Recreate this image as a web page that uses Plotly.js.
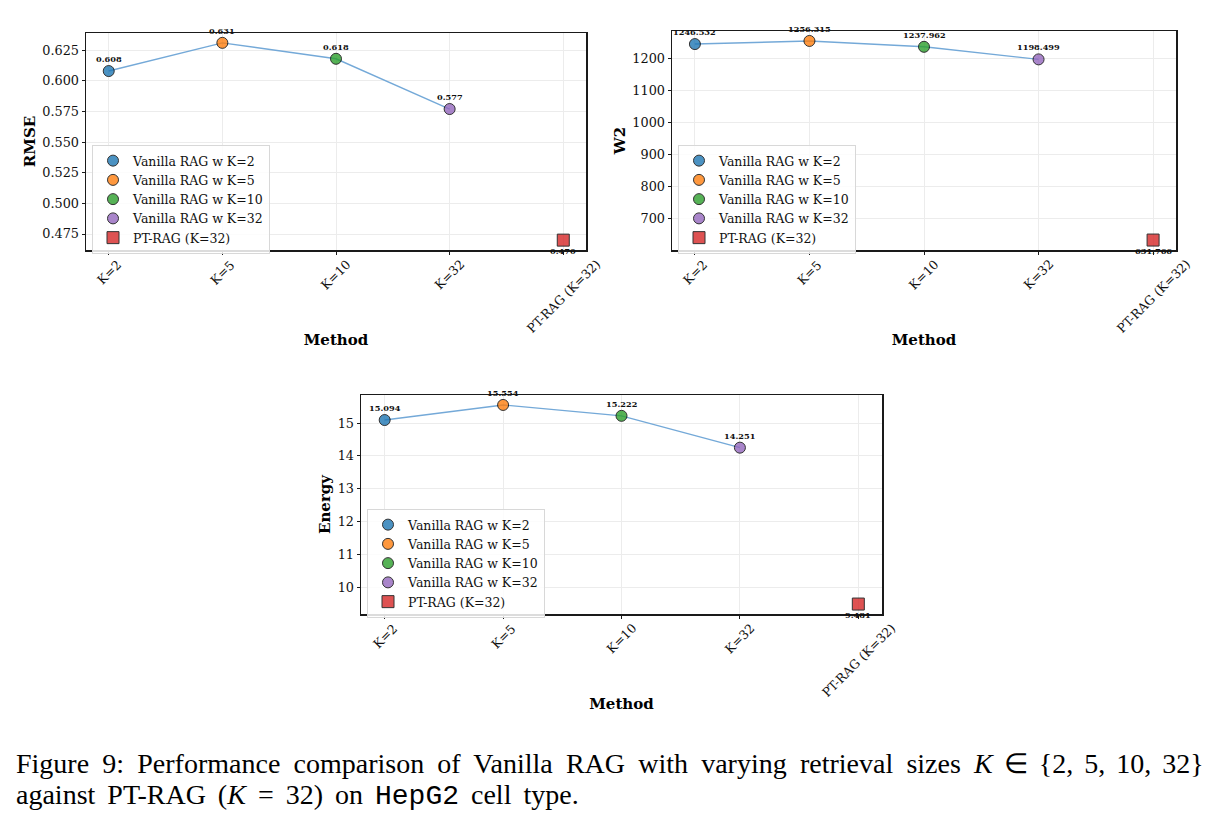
<!DOCTYPE html>
<html>
<head>
<meta charset="utf-8">
<script src="https://cdn.plot.ly/plotly-3.0.1.min.js"></script>
<style>
  html, body { margin: 0; padding: 0; background: #fff; }
  #fig { width: 1219px; height: 831px; }
</style>
</head>
<body>
<div id="fig"></div>
<script>
// Methods on the x axis and their legend names
const methods = ['K=2', 'K=5', 'K=10', 'K=32', 'PT-RAG (K=32)'];
const legendNames = ['Vanilla RAG w K=2', 'Vanilla RAG w K=5', 'Vanilla RAG w K=10', 'Vanilla RAG w K=32', 'PT-RAG (K=32)'];

// Metric values per method
const rmse = [0.608, 0.631, 0.618, 0.577, 0.470];
const w2 = [1246.532, 1256.315, 1237.962, 1198.499, 631.766];
const energy = [15.094, 15.554, 15.222, 14.251, 9.481];

const colors = ['#1f77b4', '#ff7f0e', '#2ca02c', '#9467bd', '#d62728'];
const symbols = ['circle', 'circle', 'circle', 'circle', 'square'];

const W = 1219, H = 831;
const SERIF = 'DejaVu Serif, serif';
const px = v => v / W;
const py = v => 1 - v / H;

// panel boxes in pixels: [left, top, right, bottom], legend corner, tick spacing
const panels = [
  { name: 'RMSE', data: rmse, box: [86, 33, 586, 250], legend: [92, 145], dtick: 0.025, fmt: '.3f' },
  { name: 'W2', data: w2, box: [672, 31, 1176, 250], legend: [678, 145], dtick: 100, fmt: 'd' },
  { name: 'Energy', data: energy, box: [361, 395, 882, 614], legend: [367, 509], dtick: 1, fmt: 'd' }
];

const traces = [];
const layout = {
  width: W, height: H,
  margin: { l: 0, r: 0, t: 0, b: 0 },
  paper_bgcolor: '#fff', plot_bgcolor: '#fff',
  font: { family: SERIF, size: 12.5, color: '#111' },
  annotations: [],
  hovermode: false
};

panels.forEach((p, i) => {
  const n = i + 1;
  const xa = 'x' + (n === 1 ? '' : n), ya = 'y' + (n === 1 ? '' : n);
  const xKey = 'xaxis' + (n === 1 ? '' : n), yKey = 'yaxis' + (n === 1 ? '' : n);
  const legKey = 'legend' + (n === 1 ? '' : n);

  const lo = Math.min(...p.data), hi = Math.max(...p.data);
  const pad = (hi - lo) * 0.05;

  layout[xKey] = {
    domain: [px(p.box[0]), px(p.box[2])],
    anchor: ya,
    type: 'category',
    categoryorder: 'array', categoryarray: methods,
    range: [-0.2, methods.length - 0.8],
    showgrid: true, gridcolor: '#ececec', gridwidth: 1,
    showline: true, mirror: true, linecolor: '#1a1a1a', linewidth: 1.5,
    ticks: 'outside', ticklen: 3, tickcolor: '#1a1a1a',
    showticklabels: false,
    zeroline: false,
    title: { text: '<b>Method</b>', font: { family: SERIF, size: 15, color: '#000' }, standoff: 81 }
  };
  layout[yKey] = {
    domain: [py(p.box[3]), py(p.box[1])],
    anchor: xa,
    range: [lo - pad, hi + pad],
    dtick: p.dtick, tick0: 0, tickformat: p.fmt,
    showgrid: true, gridcolor: '#ececec', gridwidth: 1,
    showline: true, mirror: true, linecolor: '#1a1a1a', linewidth: 1.5,
    ticks: 'outside', ticklen: 3, tickcolor: '#1a1a1a',
    tickfont: { family: SERIF, size: 12.8, color: '#111' },
    zeroline: false,
    title: { text: '<b>' + p.name + '</b>', font: { family: SERIF, size: 15, color: '#000' }, standoff: 3 }
  };
  layout[legKey] = {
    x: px(p.legend[0]), y: py(p.legend[1]), xref: 'paper', yref: 'paper',
    xanchor: 'left', yanchor: 'top',
    bgcolor: 'rgba(255,255,255,0.85)', bordercolor: '#d8d8d8', borderwidth: 1,
    font: { family: SERIF, size: 12.5, color: '#111' },
    tracegroupgap: 0, itemsizing: 'trace'
  };

  // connecting line across the Vanilla RAG runs
  traces.push({
    type: 'scatter', mode: 'lines', xaxis: xa, yaxis: ya,
    x: methods.slice(0, 4), y: p.data.slice(0, 4),
    line: { color: '#74a9d8', width: 1.4 },
    showlegend: false, hoverinfo: 'skip'
  });

  // one marker per method, each with its own legend entry
  methods.forEach((m, j) => {
    traces.push({
      type: 'scatter', mode: 'markers', xaxis: xa, yaxis: ya,
      x: [m], y: [p.data[j]], name: legendNames[j], legend: legKey,
      marker: { color: colors[j], symbol: symbols[j], size: j === 4 ? 12 : 11, opacity: 0.8,
                line: { color: '#000', width: 1 } }
    });
    // value label above (or below for PT-RAG)
    layout.annotations.push({
      xref: xa, yref: ya, x: m, y: p.data[j],
      text: '<b>' + p.data[j].toFixed(3) + '</b>',
      showarrow: false, yshift: j === 4 ? -11 : 12,
      font: { family: SERIF, size: 8.2, color: '#111' }
    });
    // rotated category label under the axis
    layout.annotations.push({
      xref: xa, yref: 'paper', x: m, y: py(p.box[3] + 4),
      text: m, textangle: -45, showarrow: false,
      xanchor: 'center', yanchor: 'top',
      font: { family: SERIF, size: 12.5, color: '#111' }
    });
  });
});

// figure caption, two lines with widened word spacing
const captionFont = { family: 'Liberation Serif, Times New Roman, serif', size: 28, color: '#000' };
layout.annotations.push({
  xref: 'paper', yref: 'paper', x: px(14), y: py(763), xanchor: 'left', yanchor: 'middle',
  showarrow: false, font: captionFont,
  text: '<span style="word-spacing:6.2px">Figure 9: Performance comparison of Vanilla RAG with varying retrieval sizes </span>' +
        '<span style="word-spacing:4px"><i>K</i> ∈ {2, 5, 10, 32}</span>'
});
layout.annotations.push({
  xref: 'paper', yref: 'paper', x: px(14), y: py(795), xanchor: 'left', yanchor: 'middle',
  showarrow: false, font: captionFont,
  text: '<span style="word-spacing:5px">against PT-RAG (<i>K</i> = 32) on </span><span style="font-family:Liberation Mono">HepG2</span><span style="word-spacing:5px"> cell type.</span>'
});

Plotly.newPlot('fig', traces, layout, { displayModeBar: false, staticPlot: true });
</script>
</body>
</html>
